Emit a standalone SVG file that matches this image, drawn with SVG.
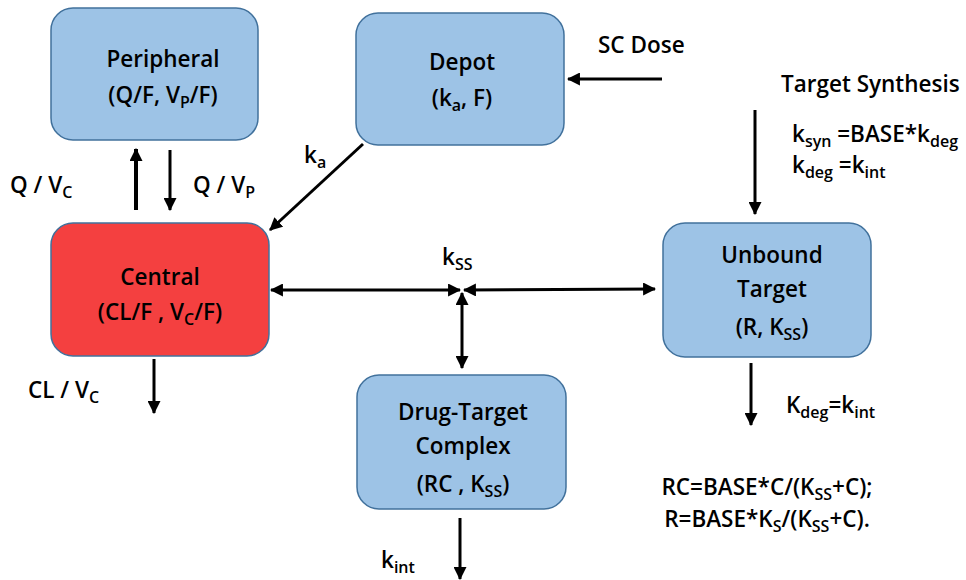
<svg xmlns="http://www.w3.org/2000/svg" width="966" height="580" viewBox="0 0 966 580">
<defs>
<style>
.box{fill:#9DC3E6;stroke:#41719C;stroke-width:1.5}
.red{fill:#F44040;stroke:#41719C;stroke-width:1.5}
text{font-family:"Open Sans","Liberation Sans",sans-serif;font-weight:600;font-size:22.5px;fill:#000}
.c{text-anchor:middle}
.ln{stroke:#000;stroke-width:3;fill:none}
.thick{stroke-width:4}
</style>
<marker id="ah" viewBox="0 0 12 12" refX="11" refY="6" markerWidth="13" markerHeight="13" markerUnits="userSpaceOnUse" orient="auto-start-reverse">
<path d="M0,0 L12,6 L0,12 Z" fill="#000"/>
</marker>
</defs>
<rect width="966" height="580" fill="#fff"/>

<g id="peripheral">
<rect class="box" x="51" y="8" width="207" height="132" rx="22"/>
<text class="c" x="163" y="67">Peripheral</text>
<text class="c" x="163" y="103">(Q/F, V<tspan font-size="16" dy="5">P</tspan><tspan dy="-5">/F)</tspan></text>
</g>

<g id="depot">
<rect class="box" x="356" y="13" width="208" height="132" rx="22"/>
<text class="c" x="462" y="70">Depot</text>
<text class="c" x="462" y="106">(k<tspan font-size="16" dy="5">a</tspan><tspan dy="-5">, F)</tspan></text>
</g>

<g id="central">
<rect class="red" x="51" y="223" width="218" height="133" rx="22"/>
<text class="c" x="160" y="285">Central</text>
<text class="c" x="160" y="320">(CL/F , V<tspan font-size="16" dy="5">C</tspan><tspan dy="-5">/F)</tspan></text>
</g>

<g id="unbound">
<rect class="box" x="663" y="223" width="208" height="134" rx="22"/>
<text class="c" x="772" y="263">Unbound</text>
<text class="c" x="772" y="297">Target</text>
<text class="c" x="772" y="335">(R, K<tspan font-size="16" dy="5">SS</tspan><tspan dy="-5">)</tspan></text>
</g>

<g id="complex">
<rect class="box" x="357" y="375" width="209" height="134" rx="22"/>
<text class="c" x="463" y="420">Drug-Target</text>
<text class="c" x="463" y="454">Complex</text>
<text class="c" x="463" y="492">(RC , K<tspan font-size="16" dy="5">SS</tspan><tspan dy="-5">)</tspan></text>
</g>

<g id="connectors">
<line class="ln thick" x1="136" y1="210" x2="136" y2="149" marker-end="url(#ah)"/>
<line class="ln" x1="170" y1="150" x2="170" y2="210" marker-end="url(#ah)"/>
<line class="ln" x1="363" y1="144" x2="270" y2="230" marker-end="url(#ah)"/>
<line class="ln" x1="662" y1="79" x2="568" y2="79" marker-end="url(#ah)"/>
<line class="ln" x1="755" y1="110" x2="755" y2="214" marker-end="url(#ah)"/>
<line class="ln" x1="271" y1="290" x2="460" y2="290" marker-start="url(#ah)" marker-end="url(#ah)"/>
<line class="ln" x1="464" y1="290" x2="655" y2="289" marker-start="url(#ah)" marker-end="url(#ah)"/>
<line class="ln" x1="462" y1="293" x2="462" y2="368" marker-start="url(#ah)" marker-end="url(#ah)"/>
<line class="ln" x1="154" y1="359" x2="154" y2="413" marker-end="url(#ah)"/>
<line class="ln" x1="751" y1="363" x2="751" y2="425" marker-end="url(#ah)"/>
<line class="ln" x1="460" y1="518" x2="460" y2="579" marker-end="url(#ah)"/>
</g>

<g id="labels">
<text x="10" y="193">Q / V<tspan font-size="16" dy="5">C</tspan></text>
<text x="193" y="193">Q / V<tspan font-size="16" dy="5">P</tspan></text>
<text x="304" y="163">k<tspan font-size="16" dy="5">a</tspan></text>
<text x="598" y="53">SC Dose</text>
<text x="781" y="92">Target Synthesis</text>
<text x="792" y="142">k<tspan font-size="16" dy="5">syn</tspan><tspan dy="-5"> =BASE*k</tspan><tspan font-size="16" dy="5">deg</tspan></text>
<text x="792" y="173">k<tspan font-size="16" dy="5">deg</tspan><tspan dy="-5"> =k</tspan><tspan font-size="16" dy="5">int</tspan></text>
<text x="442" y="265">k<tspan font-size="16" dy="5">SS</tspan></text>
<text x="28" y="398">CL / V<tspan font-size="16" dy="5">C</tspan></text>
<text x="786" y="413">K<tspan font-size="16" dy="5">deg</tspan><tspan dy="-5">=k</tspan><tspan font-size="16" dy="5">int</tspan></text>
<text class="c" x="767" y="495">RC=BASE*C/(K<tspan font-size="16" dy="5">SS</tspan><tspan dy="-5">+C);</tspan></text>
<text class="c" x="767" y="527">R=BASE*K<tspan font-size="16" dy="5">S</tspan><tspan dy="-5">/(K</tspan><tspan font-size="16" dy="5">SS</tspan><tspan dy="-5">+C).</tspan></text>
<text x="381" y="568">k<tspan font-size="16" dy="5">int</tspan></text>
</g>
</svg>
